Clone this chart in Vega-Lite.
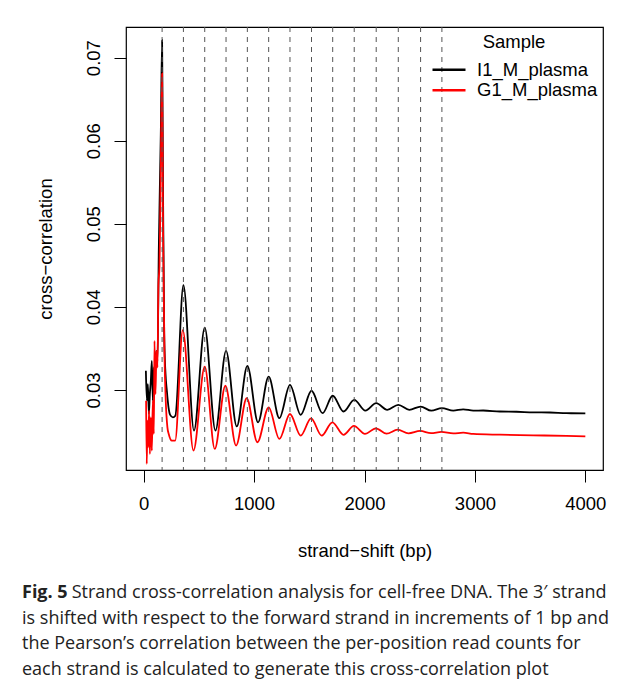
{
  "$schema": "https://vega.github.io/schema/vega-lite/v6.json",
  "width": 477,
  "height": 443,
  "autosize": {"type": "none"},
  "padding": {"left": 126, "top": 27, "right": 26, "bottom": 214},
  "background": "white",
  "title": {
    "text": "Fig. 5",
    "subtitle": [
      "\u200b\u2003\u2003\u2002 Strand cross-correlation analysis for cell-free DNA. The 3\u2032 strand",
      "is shifted with respect to the forward strand in increments of 1 bp and",
      "the Pearson\u2019s correlation between the per-position read counts for",
      "each strand is calculated to generate this cross-correlation plot"
    ],
    "orient": "bottom",
    "anchor": "start",
    "frame": "bounds",
    "font": "Open Sans",
    "fontSize": 18,
    "fontWeight": "bold",
    "color": "#222222",
    "subtitleFont": "Open Sans",
    "subtitleFontSize": 18,
    "subtitleFontWeight": "normal",
    "subtitleColor": "#222222",
    "subtitleLineHeight": 25.7,
    "subtitlePadding": -18,
    "offset": 24,
    "dx": -14
  },
  "config": {
    "view": {"stroke": "black", "strokeWidth": 1.2},
    "font": "Liberation Sans",
    "axis": {
      "domain": false,
      "grid": false,
      "tickColor": "black",
      "tickWidth": 1,
      "tickSize": 12,
      "labelFont": "Liberation Sans",
      "labelFontSize": 18.5,
      "labelColor": "black",
      "labelPadding": 15,
      "titleFont": "Liberation Sans",
      "titleFontSize": 18.5,
      "titleFontWeight": "normal",
      "titleColor": "black"
    },
    "legend": {
      "orient": "none",
      "legendX": 305,
      "legendY": 6,
      "padding": 0,
      "titleFont": "Liberation Sans",
      "titleFontSize": 18.5,
      "titleFontWeight": "normal",
      "titleColor": "black",
      "titleAnchor": "middle",
      "titlePadding": 9,
      "labelFont": "Liberation Sans",
      "labelFontSize": 18.5,
      "labelColor": "black",
      "labelOffset": 10,
      "clipHeight": 18.5,
      "rowPadding": 1.5,
      "symbolType": "stroke",
      "symbolSize": 1089,
      "symbolStrokeWidth": 2.5
    }
  },
  "datasets": {
    "cc": [
      {"sample": "I1_M_plasma", "shift": 20, "cc": 0.0323},
      {"sample": "I1_M_plasma", "shift": 29, "cc": 0.0287},
      {"sample": "I1_M_plasma", "shift": 38, "cc": 0.0307},
      {"sample": "I1_M_plasma", "shift": 47, "cc": 0.0271},
      {"sample": "I1_M_plasma", "shift": 56, "cc": 0.0295},
      {"sample": "I1_M_plasma", "shift": 65, "cc": 0.0311},
      {"sample": "I1_M_plasma", "shift": 74, "cc": 0.0335},
      {"sample": "I1_M_plasma", "shift": 83, "cc": 0.0287},
      {"sample": "I1_M_plasma", "shift": 92, "cc": 0.0327},
      {"sample": "I1_M_plasma", "shift": 101, "cc": 0.0315},
      {"sample": "I1_M_plasma", "shift": 113, "cc": 0.0347},
      {"sample": "I1_M_plasma", "shift": 125, "cc": 0.0335},
      {"sample": "I1_M_plasma", "shift": 137, "cc": 0.0468},
      {"sample": "I1_M_plasma", "shift": 146, "cc": 0.054},
      {"sample": "I1_M_plasma", "shift": 155, "cc": 0.0608},
      {"sample": "I1_M_plasma", "shift": 167, "cc": 0.0721},
      {"sample": "I1_M_plasma", "shift": 176, "cc": 0.0528},
      {"sample": "I1_M_plasma", "shift": 186, "cc": 0.0368},
      {"sample": "I1_M_plasma", "shift": 198, "cc": 0.0319},
      {"sample": "I1_M_plasma", "shift": 210, "cc": 0.0299},
      {"sample": "I1_M_plasma", "shift": 225, "cc": 0.0279},
      {"sample": "I1_M_plasma", "shift": 240, "cc": 0.027},
      {"sample": "I1_M_plasma", "shift": 265, "cc": 0.0267},
      {"sample": "I1_M_plasma", "shift": 287, "cc": 0.0269},
      {"sample": "I1_M_plasma", "shift": 360, "cc": 0.0426},
      {"sample": "I1_M_plasma", "shift": 456, "cc": 0.0251},
      {"sample": "I1_M_plasma", "shift": 553, "cc": 0.0375},
      {"sample": "I1_M_plasma", "shift": 650, "cc": 0.0251},
      {"sample": "I1_M_plasma", "shift": 746, "cc": 0.0347},
      {"sample": "I1_M_plasma", "shift": 843, "cc": 0.0256},
      {"sample": "I1_M_plasma", "shift": 939, "cc": 0.0329},
      {"sample": "I1_M_plasma", "shift": 1036, "cc": 0.0261},
      {"sample": "I1_M_plasma", "shift": 1132, "cc": 0.0316},
      {"sample": "I1_M_plasma", "shift": 1229, "cc": 0.0266},
      {"sample": "I1_M_plasma", "shift": 1325, "cc": 0.0306},
      {"sample": "I1_M_plasma", "shift": 1422, "cc": 0.027},
      {"sample": "I1_M_plasma", "shift": 1520, "cc": 0.0299},
      {"sample": "I1_M_plasma", "shift": 1620, "cc": 0.0272},
      {"sample": "I1_M_plasma", "shift": 1712, "cc": 0.0293},
      {"sample": "I1_M_plasma", "shift": 1810, "cc": 0.0274},
      {"sample": "I1_M_plasma", "shift": 1907, "cc": 0.0288},
      {"sample": "I1_M_plasma", "shift": 2008, "cc": 0.0275},
      {"sample": "I1_M_plasma", "shift": 2106, "cc": 0.0284},
      {"sample": "I1_M_plasma", "shift": 2206, "cc": 0.0276},
      {"sample": "I1_M_plasma", "shift": 2306, "cc": 0.0282},
      {"sample": "I1_M_plasma", "shift": 2406, "cc": 0.0276},
      {"sample": "I1_M_plasma", "shift": 2508, "cc": 0.028},
      {"sample": "I1_M_plasma", "shift": 2605, "cc": 0.0275},
      {"sample": "I1_M_plasma", "shift": 2701, "cc": 0.0278},
      {"sample": "I1_M_plasma", "shift": 2804, "cc": 0.0275},
      {"sample": "I1_M_plasma", "shift": 2894, "cc": 0.02767},
      {"sample": "I1_M_plasma", "shift": 2985, "cc": 0.0275},
      {"sample": "I1_M_plasma", "shift": 3075, "cc": 0.02752},
      {"sample": "I1_M_plasma", "shift": 3226, "cc": 0.0274},
      {"sample": "I1_M_plasma", "shift": 3377, "cc": 0.02737},
      {"sample": "I1_M_plasma", "shift": 3528, "cc": 0.0273},
      {"sample": "I1_M_plasma", "shift": 3679, "cc": 0.02728},
      {"sample": "I1_M_plasma", "shift": 3830, "cc": 0.0272},
      {"sample": "I1_M_plasma", "shift": 4000, "cc": 0.02718},
      {"sample": "G1_M_plasma", "shift": 22, "cc": 0.0287},
      {"sample": "G1_M_plasma", "shift": 28, "cc": 0.0211},
      {"sample": "G1_M_plasma", "shift": 34, "cc": 0.0263},
      {"sample": "G1_M_plasma", "shift": 40, "cc": 0.0231},
      {"sample": "G1_M_plasma", "shift": 49, "cc": 0.0275},
      {"sample": "G1_M_plasma", "shift": 56, "cc": 0.0223},
      {"sample": "G1_M_plasma", "shift": 65, "cc": 0.0267},
      {"sample": "G1_M_plasma", "shift": 74, "cc": 0.0227},
      {"sample": "G1_M_plasma", "shift": 83, "cc": 0.0287},
      {"sample": "G1_M_plasma", "shift": 92, "cc": 0.0247},
      {"sample": "G1_M_plasma", "shift": 98, "cc": 0.0359},
      {"sample": "G1_M_plasma", "shift": 107, "cc": 0.0295},
      {"sample": "G1_M_plasma", "shift": 116, "cc": 0.0347},
      {"sample": "G1_M_plasma", "shift": 125, "cc": 0.0327},
      {"sample": "G1_M_plasma", "shift": 134, "cc": 0.0428},
      {"sample": "G1_M_plasma", "shift": 143, "cc": 0.0448},
      {"sample": "G1_M_plasma", "shift": 152, "cc": 0.0528},
      {"sample": "G1_M_plasma", "shift": 167, "cc": 0.0681},
      {"sample": "G1_M_plasma", "shift": 176, "cc": 0.0488},
      {"sample": "G1_M_plasma", "shift": 188, "cc": 0.0347},
      {"sample": "G1_M_plasma", "shift": 200, "cc": 0.0287},
      {"sample": "G1_M_plasma", "shift": 215, "cc": 0.0255},
      {"sample": "G1_M_plasma", "shift": 227, "cc": 0.0247},
      {"sample": "G1_M_plasma", "shift": 255, "cc": 0.0239},
      {"sample": "G1_M_plasma", "shift": 285, "cc": 0.0239},
      {"sample": "G1_M_plasma", "shift": 354, "cc": 0.0372},
      {"sample": "G1_M_plasma", "shift": 451, "cc": 0.0227},
      {"sample": "G1_M_plasma", "shift": 553, "cc": 0.0328},
      {"sample": "G1_M_plasma", "shift": 644, "cc": 0.0229},
      {"sample": "G1_M_plasma", "shift": 740, "cc": 0.0305},
      {"sample": "G1_M_plasma", "shift": 837, "cc": 0.0233},
      {"sample": "G1_M_plasma", "shift": 933, "cc": 0.029},
      {"sample": "G1_M_plasma", "shift": 1030, "cc": 0.0237},
      {"sample": "G1_M_plasma", "shift": 1132, "cc": 0.0279},
      {"sample": "G1_M_plasma", "shift": 1229, "cc": 0.0241},
      {"sample": "G1_M_plasma", "shift": 1325, "cc": 0.0271},
      {"sample": "G1_M_plasma", "shift": 1422, "cc": 0.0245},
      {"sample": "G1_M_plasma", "shift": 1516, "cc": 0.02658},
      {"sample": "G1_M_plasma", "shift": 1612, "cc": 0.0245},
      {"sample": "G1_M_plasma", "shift": 1709, "cc": 0.0261},
      {"sample": "G1_M_plasma", "shift": 1810, "cc": 0.0246},
      {"sample": "G1_M_plasma", "shift": 1904, "cc": 0.02566},
      {"sample": "G1_M_plasma", "shift": 2004, "cc": 0.0247},
      {"sample": "G1_M_plasma", "shift": 2103, "cc": 0.02538},
      {"sample": "G1_M_plasma", "shift": 2200, "cc": 0.02473},
      {"sample": "G1_M_plasma", "shift": 2300, "cc": 0.02522},
      {"sample": "G1_M_plasma", "shift": 2398, "cc": 0.02477},
      {"sample": "G1_M_plasma", "shift": 2504, "cc": 0.02506},
      {"sample": "G1_M_plasma", "shift": 2603, "cc": 0.0248},
      {"sample": "G1_M_plasma", "shift": 2696, "cc": 0.02494},
      {"sample": "G1_M_plasma", "shift": 2804, "cc": 0.02477},
      {"sample": "G1_M_plasma", "shift": 2894, "cc": 0.02485},
      {"sample": "G1_M_plasma", "shift": 2985, "cc": 0.0247},
      {"sample": "G1_M_plasma", "shift": 3226, "cc": 0.02461},
      {"sample": "G1_M_plasma", "shift": 3528, "cc": 0.02453},
      {"sample": "G1_M_plasma", "shift": 3830, "cc": 0.02447},
      {"sample": "G1_M_plasma", "shift": 4000, "cc": 0.02441}
    ],
    "peaks": [
      {"shift": 167}, {"shift": 360}, {"shift": 553}, {"shift": 746},
      {"shift": 939}, {"shift": 1132}, {"shift": 1325}, {"shift": 1520},
      {"shift": 1712}, {"shift": 1907}, {"shift": 2106}, {"shift": 2306},
      {"shift": 2508}, {"shift": 2701}
    ]
  },
  "layer": [
    {
      "data": {"name": "cc"},
      "mark": {"type": "line", "interpolate": "monotone", "strokeWidth": 1.8, "clip": true},
      "encoding": {
        "x": {
          "field": "shift",
          "type": "quantitative",
          "scale": {"domain": [-160, 4160], "nice": false, "zero": false},
          "axis": {
            "values": [0, 1000, 2000, 3000, 4000],
            "format": "d",
            "title": "strand\u2212shift (bp)",
            "labelPadding": 12,
            "titlePadding": 29,
            "labelFlush": false
          }
        },
        "y": {
          "field": "cc",
          "type": "quantitative",
          "scale": {"domain": [0.02036, 0.07369], "nice": false, "zero": false},
          "axis": {
            "values": [0.03, 0.04, 0.05, 0.06, 0.07],
            "format": ".2f",
            "labelAngle": 270,
            "labelAlign": "center",
            "labelBaseline": "alphabetic",
            "title": "cross\u2212correlation",
            "titleBaseline": "alphabetic",
            "titlePadding": 33,
            "labelFlush": false
          }
        },
        "color": {
          "field": "sample",
          "type": "nominal",
          "scale": {"domain": ["I1_M_plasma", "G1_M_plasma"], "range": ["#000000", "#ff0000"]},
          "legend": {"title": "Sample"}
        }
      }
    },
    {
      "data": {"name": "peaks"},
      "mark": {"type": "rule", "strokeDash": [5, 5], "color": "#555555", "strokeWidth": 1},
      "encoding": {
        "x": {"field": "shift", "type": "quantitative"}
      }
    }
  ]
}
